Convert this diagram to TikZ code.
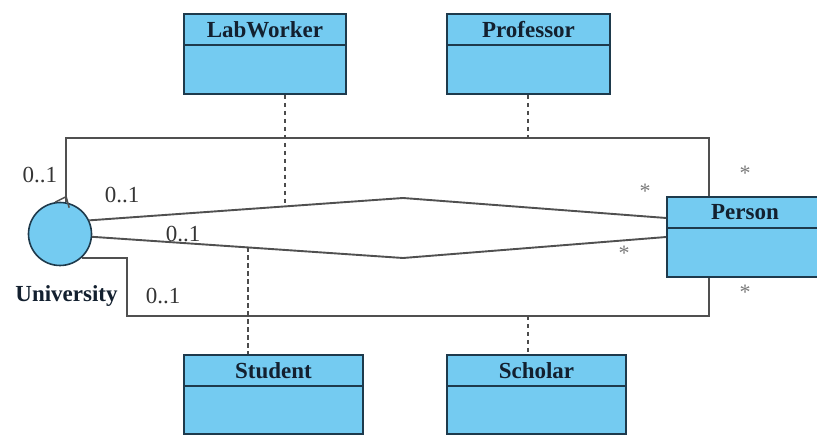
\documentclass[tikz,border=0pt]{standalone}
\usepackage{fontspec}
\setmainfont{Liberation Serif}
\begin{document}
\definecolor{clsfill}{HTML}{74CBF1}
\definecolor{clsedge}{HTML}{1E3A4C}
\definecolor{clstext}{HTML}{13202F}
\definecolor{assoccol}{HTML}{505050}
\definecolor{multcol}{HTML}{353535}
\definecolor{starcol}{HTML}{7A7A7A}
\begin{tikzpicture}[x=1pt,y=-1pt,
  cls/.style={draw=clsedge, fill=clsfill, line width=1.6pt, inner sep=0pt},
  clsname/.style={font=\fontsize{23}{26}\selectfont\bfseries, text=clstext, inner sep=0pt},
  assoc/.style={draw=assoccol, line width=1.9pt},
  realize/.style={draw=black!70, line width=1.8pt, dash pattern=on 4.5pt off 3.5pt},
  mult/.style={font=\fontsize{23}{26}\selectfont, text=multcol, inner sep=0pt},
  star/.style={font=\fontsize{22}{24}\selectfont, text=starcol, inner sep=0pt, anchor=north}]
\useasboundingbox (0,0) rectangle (817,438);
\clip (0,0) rectangle (817,438);

% class box: name, centre, width, height, title
\newcommand\umlclass[5]{%
  \node[cls, minimum width=#3pt, minimum height=#4pt] (#1) at (#2) {};
  \draw[clsedge, line width=1.6pt] ([yshift=-32pt]#1.north west) -- ([yshift=-32pt]#1.north east);
  \node[clsname] at ([yshift=-16pt]#1.north) {#5};}

\umlclass{lw}{265,54}{162}{80}{LabWorker}
\umlclass{pr}{528.5,54}{163}{80}{Professor}
\umlclass{st}{273.5,394.5}{179}{79}{Student}
\umlclass{sc}{536.5,394.5}{179}{79}{Scholar}
\umlclass{ps}{745,237}{156}{80}{Person}

% University component
\node[cls, circle, minimum size=63pt] (univ) at (60,234) {};
\node[clsname] (univname) at (66.5,296) {University};

% route corners and join points
\coordinate (tr) at (709,138);
\coordinate (bc) at (127,316);
\coordinate (br) at (709,316);
\coordinate (upk) at (403,198);
\coordinate (lok) at (403,258);
\coordinate (lwj) at (285,205.5);
\coordinate (stj) at (248,247.5);
\coordinate (prj) at (528,138);
\coordinate (scj) at (528,316);

% associations
\draw[assoc] (univ.80) |- (tr) -- (ps.north -| tr);
\draw[assoc] (univ.-48) -| (bc) -| (ps.south -| br);
\draw[assoc] (univ.25) -- (upk) -- ([yshift=19pt]ps.west);
\draw[assoc] (univ.-5) -- (lok) -- (ps.west);

% navigability tick at the University end
\draw[assoc, line width=1.5pt] ([shift={(-10.5pt,0pt)}]univ.80) -- ([shift={(0.5pt,5.5pt)}]univ.80) -- ([shift={(3.6pt,-5.5pt)}]univ.80);

% association classes
\draw[realize] (lw.south -| lwj) -- (lwj);
\draw[realize] (pr.south -| prj) -- (prj);
\draw[realize] (stj) -- (st.north -| stj);
\draw[realize] (scj) -- (sc.north -| scj);

% multiplicities
\node[mult] (m1) at (40,175) {0..1};
\node[mult] (m2) at (122,195) {0..1};
\node[mult] (m3) at (183,234) {0..1};
\node[mult] (m4) at (163,296) {0..1};
\node[star] (s1) at (645,184) {*};
\node[star] (s2) at (624,246) {*};
\node[star] (s3) at (745,166) {*};
\node[star] (s4) at (745,285) {*};
\end{tikzpicture}
\end{document}
